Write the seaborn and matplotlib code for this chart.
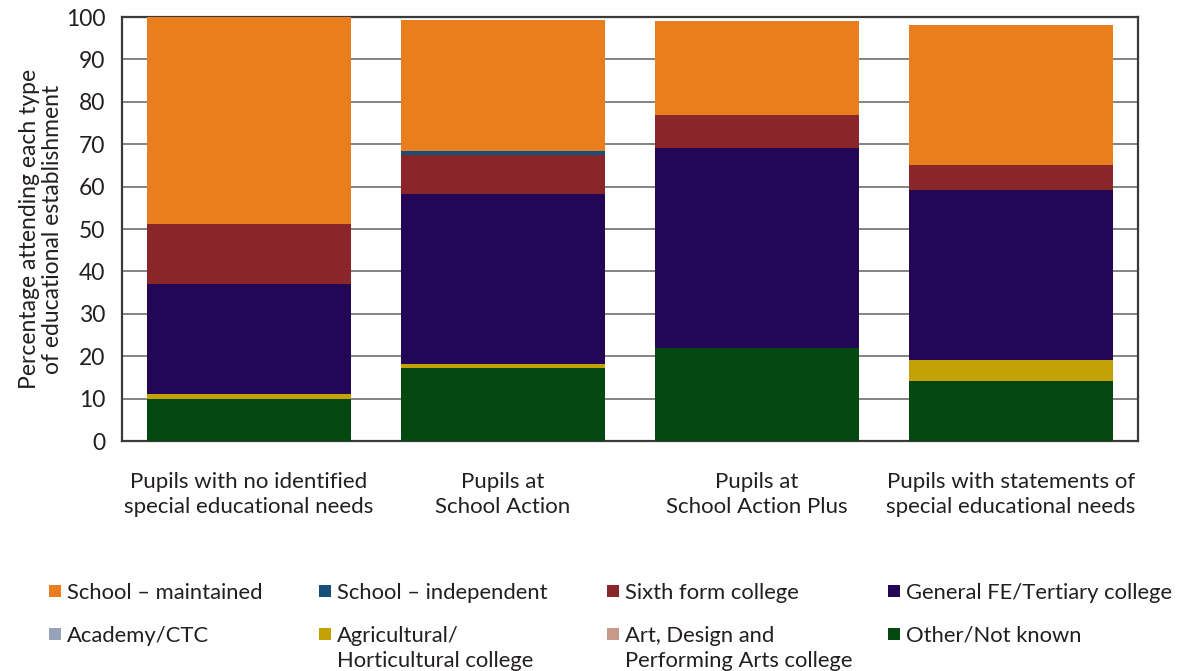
import matplotlib
matplotlib.use("Agg")
import matplotlib.pyplot as plt
from matplotlib.patches import Rectangle
import seaborn as sns
import pandas as pd
import numpy as np

# Groups of pupils (x axis)
groups = [
    "Pupils with no identified\nspecial educational needs",
    "Pupils at\nSchool Action",
    "Pupils at\nSchool Action Plus",
    "Pupils with statements of\nspecial educational needs",
]

# Percentage attending each type of establishment, per group
other_not_known = [10.0, 17.2, 22.0, 14.2]
agricultural = [1.1, 1.0, 0.0, 5.0]
art_design = [0.0, 0.0, 0.0, 0.0]
academy_ctc = [0.0, 0.0, 0.0, 0.0]
general_fe = [26.0, 40.0, 47.0, 40.0]
sixth_form = [14.0, 9.2, 8.0, 6.0]
school_independent = [0.0, 1.0, 0.0, 0.0]
school_maintained = [48.9, 30.8, 22.0, 32.9]

# Stack order, bottom to top
stack = [
    ("Other/Not known", other_not_known, "#034711"),
    ("Agricultural/\nHorticultural college", agricultural, "#C4A105"),
    ("Art, Design and\nPerforming Arts college", art_design, "#C8998A"),
    ("Academy/CTC", academy_ctc, "#98A3BB"),
    ("General FE/Tertiary college", general_fe, "#230757"),
    ("Sixth form college", sixth_form, "#8A2529"),
    ("School \u2013 independent", school_independent, "#16507A"),
    ("School \u2013 maintained", school_maintained, "#E97E1E"),
]

# Legend order (row by row)
legend_order = [
    "School \u2013 maintained", "School \u2013 independent", "Sixth form college",
    "General FE/Tertiary college", "Academy/CTC",
    "Agricultural/\nHorticultural college",
    "Art, Design and\nPerforming Arts college", "Other/Not known",
]

sns.set_theme(style="white")
plt.rcParams["font.family"] = ["Lato", "DejaVu Sans"]
TEXT = "#231F20"

W, H = 1177, 671
fig = plt.figure(figsize=(W / 100, H / 100), dpi=100)
ax = fig.add_axes([122 / W, 1 - 441 / H, (1138 - 122) / W, (441 - 17) / H])

bottom = np.zeros(len(groups))
for name, vals, color in stack:
    df = pd.DataFrame({"group": groups, "value": vals})
    sns.barplot(data=df, x="group", y="value", color=color, width=0.8,
                bottom=bottom, linewidth=0, saturation=1, ax=ax, zorder=3)
    bottom = bottom + np.array(vals)

ax.set_xlim(-0.5, len(groups) - 0.5)
ax.set_ylim(0, 100)
ax.set_yticks(np.arange(0, 101, 10))
ax.yaxis.grid(True, color="#7a7a7a", linewidth=1.3, zorder=0)
ax.xaxis.grid(False)
ax.set_axisbelow(True)

ax.set_xlabel("")
ax.set_ylabel("Percentage attending each type\nof educational establishment",
              fontsize=16.5, color=TEXT, labelpad=2, linespacing=1.1)

ax.tick_params(axis="y", length=0, pad=12, labelsize=16.5, labelcolor=TEXT)
ax.tick_params(axis="x", which="major", length=0, pad=22, labelsize=16,
               labelcolor=TEXT)
ax.set_xticks(np.arange(-0.5, len(groups), 1.0), minor=True)
ax.tick_params(axis="x", which="minor", length=9, width=1.5, color="#555555",
               direction="out")
for lbl in ax.get_xticklabels():
    lbl.set_linespacing(1.35)

for side in ["left", "right", "top", "bottom"]:
    ax.spines[side].set_visible(True)
    ax.spines[side].set_color("#3a3a3a")
    ax.spines[side].set_linewidth(1.6)

# Legend laid out as a 2 x 4 grid below the chart
colors = {name: color for name, _, color in stack}
col_x = [49, 319, 607, 888]
row_y = [585, 628]
for i, name in enumerate(legend_order):
    r, c = divmod(i, 4)
    x0, y0 = col_x[c], row_y[r]
    fig.add_artist(Rectangle((x0 / W, 1 - (y0 + 12) / H), 12 / W, 12 / H,
                             transform=fig.transFigure, color=colors[name],
                             linewidth=0))
    fig.text((x0 + 18) / W, 1 - (y0 - 2) / H, name, ha="left", va="top",
             fontsize=15.8, color=TEXT, linespacing=1.3)

fig.savefig("out.png", dpi=100)
